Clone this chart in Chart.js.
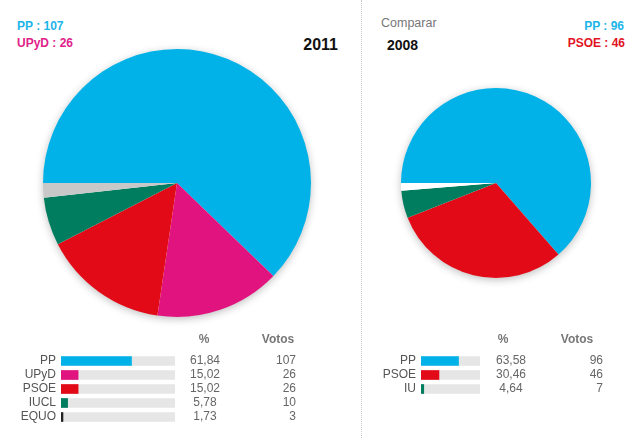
<!DOCTYPE html>
<html>
<head>
<meta charset="utf-8">
<script src="https://cdn.jsdelivr.net/npm/chart.js"></script>
<style>
  body { margin: 0; background: #fff; font-family: "Liberation Sans", Arial, sans-serif; }
  #wrap { position: relative; width: 640px; height: 438px; overflow: hidden; }
  canvas, .t { position: absolute; }
  .t { white-space: nowrap; line-height: 1; }
  .b { font-weight: bold; }
  #sep { position: absolute; left: 361px; top: 0; height: 438px; border-left: 1px dotted #c8c8c8; }
</style>
</head>
<body>
<div id="wrap">
  <div class="t b" style="left:17px;top:20px;font-size:12px;color:#1cb5e8">PP : 107</div>
  <div class="t b" style="left:17px;top:37px;font-size:12px;color:#e0218a">UPyD : 26</div>
  <div class="t b" style="right:302px;top:37px;font-size:16px;color:#111">2011</div>
  <div id="sep"></div>
  <div class="t" style="left:381px;top:17px;font-size:12.5px;color:#777">Comparar</div>
  <div class="t b" style="left:387px;top:38px;font-size:14px;color:#111">2008</div>
  <div class="t b" style="right:16px;top:20px;font-size:12px;color:#1cb5e8">PP : 96</div>
  <div class="t b" style="right:15px;top:37px;font-size:12px;color:#e2131f">PSOE : 46</div>

  <canvas id="pie2011" width="288" height="288" style="left:33px;top:39px"></canvas>
  <canvas id="pie2008" width="210" height="210" style="left:391px;top:78px"></canvas>
  <canvas id="bars2011" width="360" height="94" style="left:0;top:330px"></canvas>
  <canvas id="bars2008" width="279" height="66" style="left:361px;top:330px"></canvas>
</div>
<script>
// 2011 results
var parties2011 = ["PP", "UPyD", "PSOE", "IUCL", "EQUO"];
var pct2011 = [61.84, 15.02, 15.02, 5.78, 1.73];
var seats2011 = [107, 26, 26, 10, 3];
var pieColors2011 = ["#00b2e8", "#e0137f", "#e20a17", "#007c5f", "#c8c8c8"];
var barColors2011 = ["#00b2e8", "#e0137f", "#e20a17", "#007c5f", "#222222"];

// 2008 results (last slice = others, drawn white)
var parties2008 = ["PP", "PSOE", "IU"];
var pct2008 = [63.58, 30.46, 4.64];
var seats2008 = [96, 46, 7];
var others2008 = 1.32;
var pieColors2008 = ["#00b2e8", "#e20a17", "#007c5f", "#ffffff"];
var barColors2008 = ["#00b2e8", "#e20a17", "#007c5f"];

var barMax = 100;
var FONT = '"Liberation Sans", Arial, sans-serif';

// soft shadow disc behind the pie
var pieShadow = {
  id: 'pieShadow',
  beforeDatasetsDraw: function (chart) {
    var arc = chart.getDatasetMeta(0).data[0];
    if (!arc) return;
    var ctx = chart.ctx;
    ctx.save();
    ctx.shadowColor = 'rgba(0,0,0,0.28)';
    ctx.shadowBlur = 9;
    ctx.shadowOffsetY = 2;
    ctx.fillStyle = '#fff';
    ctx.beginPath();
    ctx.arc(arc.x, arc.y, arc.outerRadius - 0.5, 0, Math.PI * 2);
    ctx.fill();
    ctx.restore();
  }
};

function makePie(id, labels, data, colors) {
  new Chart(document.getElementById(id), {
    type: 'pie',
    data: { labels: labels, datasets: [{ data: data, backgroundColor: colors, borderWidth: 0 }] },
    options: {
      responsive: false,
      animation: false,
      rotation: -90,
      layout: { padding: 10 },
      plugins: { legend: { display: false }, tooltip: { enabled: false } }
    },
    plugins: [pieShadow]
  });
}

makePie('pie2011', parties2011, pct2011, pieColors2011);
makePie('pie2008', parties2008.concat(['Otros']), pct2008.concat([others2008]), pieColors2008);

// % and Votos columns next to the bars
var cols = {
  id: 'cols',
  afterDraw: function (chart, args, o) {
    var ctx = chart.ctx, y = chart.scales.y;
    ctx.save();
    ctx.textBaseline = 'middle';
    ctx.fillStyle = '#777';
    ctx.font = 'bold 12px ' + FONT;
    ctx.textAlign = 'center';
    ctx.fillText('%', o.pctHeadX, 10);
    ctx.fillText('Votos', o.votesHeadX, 10);
    ctx.font = '12px ' + FONT;
    ctx.fillStyle = '#666';
    o.pct.forEach(function (v, i) {
      var py = y.getPixelForValue(i);
      ctx.textAlign = 'center';
      ctx.fillText(v.toFixed(2).replace('.', ','), o.pctX, py);
      ctx.textAlign = 'right';
      ctx.fillText(String(o.votes[i]), o.votesX, py);
    });
    ctx.restore();
  }
};

function makeBars(id, labels, pct, votes, colors, axisW, padRight, c) {
  c.pct = pct;
  c.votes = votes;
  new Chart(document.getElementById(id), {
    type: 'bar',
    data: {
      labels: labels,
      datasets: [
        { data: pct, backgroundColor: colors, barThickness: 9, grouped: false },
        { data: labels.map(function () { return barMax; }), backgroundColor: '#e6e6e6', barThickness: 9, grouped: false }
      ]
    },
    options: {
      indexAxis: 'y',
      responsive: false,
      animation: false,
      layout: { padding: { top: 24, right: padRight, left: 0, bottom: 0 } },
      scales: {
        x: { display: false, min: 0, max: barMax },
        y: {
          grid: { display: false, drawTicks: false },
          border: { display: false },
          ticks: { color: '#555', font: { family: FONT, size: 12 }, padding: 5, autoSkip: false },
          afterFit: function (s) { s.width = axisW; s.paddingTop = 0; s.paddingBottom = 0; }
        }
      },
      plugins: { legend: { display: false }, tooltip: { enabled: false }, cols: c }
    },
    plugins: [cols]
  });
}

makeBars('bars2011', parties2011, pct2011, seats2011, barColors2011, 61, 185,
  { pctX: 205, votesX: 296, pctHeadX: 204, votesHeadX: 278 });
makeBars('bars2008', parties2008, pct2008, seats2008, barColors2008, 60, 160,
  { pctX: 150, votesX: 242, pctHeadX: 142, votesHeadX: 216 });
</script>
</body>
</html>
